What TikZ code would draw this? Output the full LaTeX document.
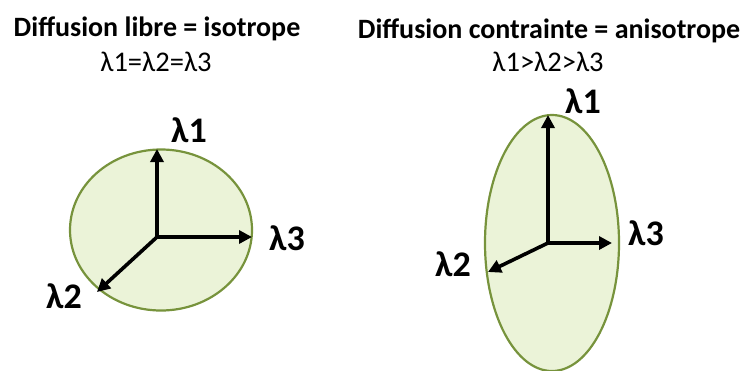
\documentclass[tikz,border=0pt]{standalone}
\usepackage{fontspec}
\setmainfont{Carlito}
\usetikzlibrary{arrows.meta}
\definecolor{fillgreen}{HTML}{EBF3D8}
\definecolor{edgegreen}{HTML}{77933C}
\tikzset{
  blob/.style={fill=fillgreen,draw=edgegreen,line width=2.2pt},
  axis/.style={line width=3.6pt,-{Triangle[length=13pt,width=13pt]}},
  title/.style={font=\fontsize{28}{32}\selectfont\bfseries,inner sep=0pt},
  sub/.style={font=\fontsize{28.5}{32}\selectfont,inner sep=0pt},
  lam/.style={font=\fontsize{36}{40}\selectfont\bfseries,inner sep=0pt}
}
\begin{document}
\begin{tikzpicture}[x=1pt,y=-1pt]
\useasboundingbox (0,0) rectangle (743,370);
% titles
\node[title] (t1) at (157,29) {Diffusion libre = isotrope};
\node[sub] (s1) at (156,62) {λ1=λ2=λ3};
\node[title] (t2) at (549,31) {Diffusion contrainte = anisotrope};
\node[sub] (s2) at (548,62) {λ1>λ2>λ3};
% left: isotropic
\draw[blob] (161,230) ellipse[x radius=91,y radius=80.5];
\coordinate (o1) at (157,237);
\coordinate (a1) at (157,149);
\coordinate (b1) at (252,237);
\coordinate (c1) at (97,292);
\draw[axis] (o1) -- (a1);
\draw[axis] (o1) -- (b1);
\draw[axis] (o1) -- (c1);
\node[lam] (l11) at (189,130) {λ1};
\node[lam] (l13) at (287,238) {λ3};
\node[lam] (l12) at (64,296) {λ2};
% right: anisotropic
\draw[blob] (552,243) ellipse[x radius=67,y radius=128];
\coordinate (o2) at (548,243);
\coordinate (a2) at (548,115);
\coordinate (b2) at (612,243);
\coordinate (c2) at (488,272);
\draw[axis] (o2) -- (a2);
\draw[axis] (o2) -- (b2);
\draw[axis] (o2) -- (c2);
\node[lam] (l21) at (583,101) {λ1};
\node[lam] (l23) at (646,233) {λ3};
\node[lam] (l22) at (453,264) {λ2};
\end{tikzpicture}
\end{document}
